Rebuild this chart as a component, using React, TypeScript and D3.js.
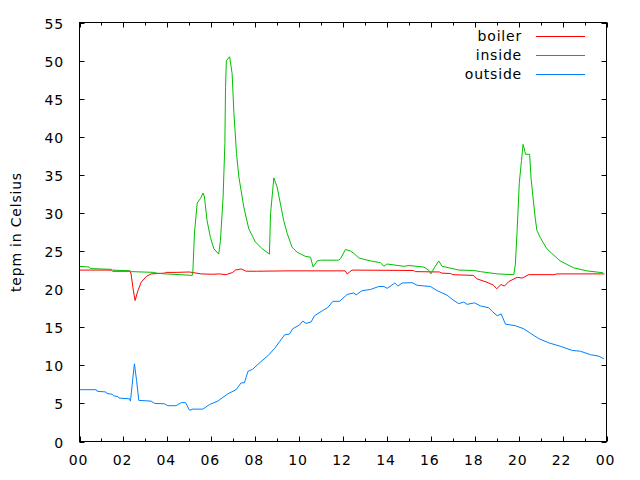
import React from "react";
import * as d3 from "d3";

// Hours of day (x) and temperatures (y)
const xTickHours = [0, 2, 4, 6, 8, 10, 12, 14, 16, 18, 20, 22, 24];
const xTickLabels = ["00", "02", "04", "06", "08", "10", "12", "14", "16", "18", "20", "22", "00"];
const xMinorHours = d3.range(0, 25, 1);
const yTicks = [0, 5, 10, 15, 20, 25, 30, 35, 40, 45, 50, 55];
const seriesNames = ["boiler", "inside", "outside"];
const seriesColors = ["#ff0000", "#00c000", "#0080ff"];
const yLabel = "tepm in Celsius";

const boiler: [number, number][] = [
  [0, 22.5], [1.45, 22.5], [1.5, 22.35], [2.3, 22.35], [2.35, 22.0], [2.43, 20.25], [2.53, 18.5],
  [2.66, 19.8], [2.81, 20.9], [3.04, 21.66], [3.26, 22.0], [3.87, 22.1], [3.95, 22.2], [4.4, 22.2],
  [5.0, 22.25], [5.54, 22.0], [6.07, 21.95], [6.37, 22.0], [6.68, 21.9], [6.98, 22.2], [7.1, 22.5],
  [7.36, 22.65], [7.59, 22.35], [8.05, 22.35], [9.6, 22.4], [12.1, 22.4], [12.19, 22.0], [12.41, 22.5],
  [15.2, 22.45], [15.3, 22.3], [16.4, 22.25], [16.5, 22.1], [16.9, 22.05], [17.0, 21.9], [17.95, 21.8],
  [18.1, 21.35], [18.56, 20.9], [18.86, 20.5], [19.0, 20.05], [19.2, 20.6], [19.35, 20.4], [19.55, 21.0],
  [19.93, 21.55], [20.16, 21.45], [20.46, 21.9], [21.6, 21.9], [21.75, 22.0], [23.9, 22.0],
];

const inside: [number, number][] = [
  [0, 23.0], [0.45, 22.9], [0.5, 22.7], [1.45, 22.6], [1.5, 22.5], [2.3, 22.4], [2.35, 22.3],
  [3.4, 22.2], [3.5, 22.1], [3.9, 22.0], [4.6, 21.9], [5.13, 21.8], [5.16, 22.2], [5.24, 27.5],
  [5.36, 31.3], [5.51, 31.9], [5.63, 32.6], [5.69, 32.1], [5.81, 29.0], [5.96, 26.8], [6.12, 25.3],
  [6.34, 24.6], [6.42, 26.4], [6.54, 32.1], [6.62, 39.1], [6.65, 46.5], [6.69, 50.0], [6.84, 50.5],
  [6.95, 48.3], [7.03, 43.2], [7.15, 37.8], [7.26, 34.7], [7.48, 30.8], [7.71, 27.9], [8.01, 26.2],
  [8.32, 25.3], [8.65, 24.6], [8.7, 29.9], [8.85, 34.6], [9.0, 33.4], [9.15, 31.2], [9.3, 29.0],
  [9.46, 27.3], [9.68, 25.5], [9.91, 24.85], [10.29, 24.3], [10.52, 24.2], [10.64, 22.9], [10.82, 23.7],
  [10.98, 23.8], [11.8, 23.8], [11.89, 24.0], [12.11, 25.2], [12.34, 25.0], [12.49, 24.7], [12.72, 24.1],
  [13.1, 23.8], [13.63, 23.5], [13.7, 23.5], [13.86, 23.0], [14.0, 23.3], [14.77, 23.0], [15.0, 23.1],
  [15.68, 22.9], [15.9, 22.5], [16.0, 22.0], [16.18, 22.9], [16.36, 23.7], [16.51, 23.0], [16.9, 22.75],
  [17.28, 22.5], [17.96, 22.45], [18.26, 22.3], [19.02, 22.0], [19.78, 21.9], [19.85, 23.3], [19.93, 27.7],
  [20.03, 34.0], [20.13, 36.9], [20.2, 39.0], [20.26, 38.4], [20.31, 37.7], [20.5, 37.7], [20.56, 34.7],
  [20.65, 32.1], [20.76, 29.2], [20.83, 27.7], [20.98, 26.8], [21.28, 25.3], [21.89, 23.7], [22.5, 22.8],
  [23.1, 22.4], [23.84, 22.15],
];

const outside: [number, number][] = [
  [0, 6.8], [0.76, 6.8], [0.8, 6.6], [1.2, 6.5], [1.25, 6.3], [1.5, 6.2], [1.55, 6.0], [1.75, 5.9],
  [1.8, 5.7], [2.28, 5.6], [2.32, 5.3], [2.4, 7.5], [2.5, 10.2], [2.6, 8.0], [2.7, 5.4], [3.26, 5.3],
  [3.42, 5.0], [3.87, 4.95], [4.02, 4.7], [4.4, 4.7], [4.63, 5.1], [4.83, 5.1], [5.01, 4.1], [5.16, 4.25],
  [5.62, 4.25], [5.92, 4.85], [6.3, 5.3], [6.75, 6.25], [7.13, 6.8], [7.36, 7.7], [7.51, 7.7], [7.67, 9.2],
  [7.89, 9.5], [8.27, 10.5], [8.58, 11.25], [8.88, 12.2], [9.11, 13.1], [9.34, 14.0], [9.56, 14.1],
  [9.71, 14.8], [10.02, 15.3], [10.17, 15.8], [10.32, 15.5], [10.55, 15.7], [10.7, 16.5], [11.08, 17.2],
  [11.31, 17.6], [11.54, 18.4], [11.84, 18.4], [12.19, 19.3], [12.49, 19.5], [12.6, 19.25], [12.87, 19.8],
  [13.25, 19.95], [13.63, 20.35], [13.86, 20.35], [14.01, 20.1], [14.36, 20.8], [14.5, 20.4], [14.69, 20.8],
  [15.15, 20.85], [15.38, 20.5], [15.98, 20.35], [16.29, 19.8], [16.74, 19.2], [17.05, 18.5], [17.27, 18.1],
  [17.5, 18.3], [17.65, 18.0], [17.99, 18.2], [18.26, 17.8], [18.64, 17.55], [18.79, 17.1], [19.02, 16.5],
  [19.2, 16.75], [19.4, 15.4], [19.85, 15.2], [20.23, 14.8], [20.54, 14.2], [20.92, 13.5], [21.37, 12.95],
  [21.9, 12.5], [22.44, 11.95], [22.81, 11.85], [23.27, 11.4], [23.65, 11.2], [23.88, 10.85],
];

const allSeries = [boiler, inside, outside];

const W = 640;
const H = 480;
const L = 79.5;
const R = 606.5;
const T = 22.5;
const B = 441.5;
const FONT = "'DejaVu Sans', sans-serif";

export default function App() {
  const x = d3.scaleLinear().domain([0, 24]).range([L, R]);
  const y = d3.scaleLinear().domain([0, 55]).range([B, T]);
  const line = d3
    .line<[number, number]>()
    .x((d) => x(d[0]))
    .y((d) => y(d[1]));

  const major = 5;
  const minor = 3;
  const textStyle = { fontFamily: FONT, fontSize: 14, letterSpacing: 0.8 } as const;

  return (
    <svg width={W} height={H} style={{ position: "absolute", left: 0, top: 0, background: "#fff" }}>
      <rect x={0} y={0} width={W} height={H} fill="#fff" />
      {/* x ticks (bottom & top) */}
      {xMinorHours.map((h) => {
        const isMajor = h % 2 === 0;
        const len = isMajor ? major : minor;
        const xx = Math.round(x(h)) + 0.5;
        return (
          <g key={"xt" + h}>
            <line x1={xx} x2={xx} y1={B} y2={B - len} stroke="#000" />
            <line x1={xx} x2={xx} y1={T} y2={T + len} stroke="#000" />
          </g>
        );
      })}
      {/* y ticks (left & right) */}
      {yTicks.map((v) => {
        const yy = Math.round(y(v)) + 0.5;
        return (
          <g key={"yt" + v}>
            <line x1={L} x2={L + major} y1={yy} y2={yy} stroke="#000" />
            <line x1={R} x2={R - major} y1={yy} y2={yy} stroke="#000" />
            <text x={64} y={yy + 5} textAnchor="end" style={textStyle} fill="#000">
              {v}
            </text>
          </g>
        );
      })}
      {xTickHours.map((h, i) => (
        <text key={"xl" + i} x={x(h) - 1} y={465} textAnchor="middle" style={textStyle} fill="#000">
          {xTickLabels[i]}
        </text>
      ))}
      {/* series */}
      {allSeries.map((s, i) => (
        <path key={"s" + i} d={line(s) || ""} fill="none" stroke={seriesColors[i]} strokeWidth={1} />
      ))}
      {/* border */}
      <rect x={L} y={T} width={R - L} height={B - T} fill="none" stroke="#000" strokeWidth={1} />
      {/* y label */}
      <text
        transform={`translate(21, ${(T + B) / 2}) rotate(-90)`}
        textAnchor="middle"
        style={textStyle}
        fill="#000"
      >
        {yLabel}
      </text>
      {/* legend */}
      {seriesNames.map((n, i) => {
        const ly = 35.5 + i * 19.3;
        return (
          <g key={"lg" + n}>
            <text x={522} y={ly + 5} textAnchor="end" style={textStyle} fill="#000">
              {n}
            </text>
            <line x1={536} x2={585} y1={Math.round(ly) + 0.5} y2={Math.round(ly) + 0.5} stroke={seriesColors[i]} />
          </g>
        );
      })}
    </svg>
  );
}
